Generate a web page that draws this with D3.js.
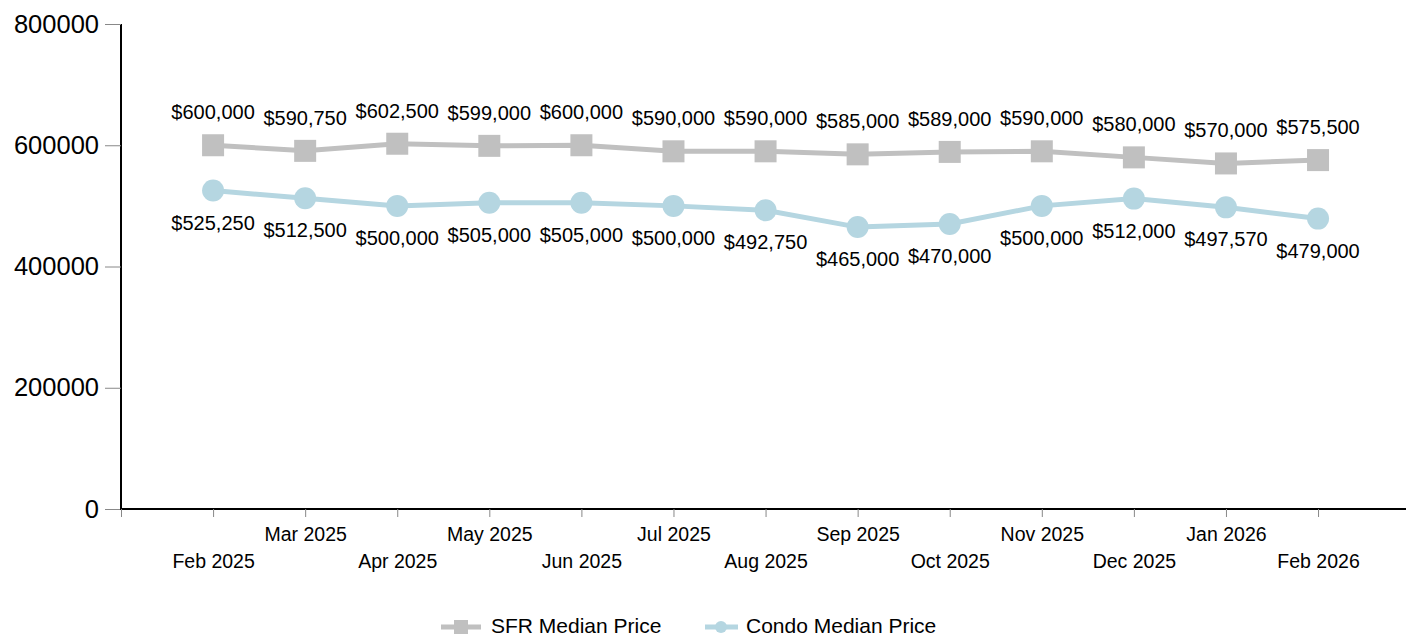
<!DOCTYPE html>
<meta charset="utf-8">
<style>
  body { margin: 0; background: #fff; }
  text { font-family: "Liberation Sans", Arial, sans-serif; fill: #000; }
</style>
<body>
  <div id="chart"></div>
</body>
<script src="https://cdn.jsdelivr.net/npm/d3@7"></script>
<script>
  var width = 1406, height = 636;

  var months = ["Feb 2025", "Mar 2025", "Apr 2025", "May 2025", "Jun 2025", "Jul 2025", "Aug 2025",
                "Sep 2025", "Oct 2025", "Nov 2025", "Dec 2025", "Jan 2026", "Feb 2026"];
  var sfr = [600000, 590750, 602500, 599000, 600000, 590000, 590000, 585000, 589000, 590000, 580000, 570000, 575500];
  var condo = [525250, 512500, 500000, 505000, 505000, 500000, 492750, 465000, 470000, 500000, 512000, 497570, 479000];
  var yTicks = [0, 200000, 400000, 600000, 800000];

  var sfrColor = "#c0c0c0", condoColor = "#b5d6e1";
  var fmt = d3.format("$,");

  var svg = d3.select("#chart").append("svg")
    .attr("width", width)
    .attr("height", height);

  // first slot on the band is left empty, like the original
  var x = d3.scalePoint()
    .domain([""].concat(months))
    .range([121, 121 + 13 * 92.08]);

  var y = d3.scaleLinear()
    .domain([0, 800000])
    .range([509, 24]);

  // y axis
  var yAxis = svg.append("g")
    .attr("transform", "translate(121,0)")
    .call(d3.axisLeft(y).tickValues(yTicks).tickFormat(d3.format("d")).tickSize(16).tickPadding(6));
  yAxis.select(".domain").attr("stroke", "#000").attr("stroke-width", 2).attr("d", "M0,24V510");
  yAxis.selectAll(".tick line").attr("stroke", "#888");
  yAxis.selectAll(".tick text").style("font-size", "25.5px").style("font-family", "Liberation Sans, Arial, sans-serif");

  // x axis
  var xAxis = svg.append("g")
    .attr("transform", "translate(0,509)")
    .call(d3.axisBottom(x).tickSize(8).tickFormat(function(d) { return d; }));
  xAxis.select(".domain").attr("stroke", "#000").attr("stroke-width", 2).attr("d", "M120,0H1406");
  xAxis.selectAll(".tick line").attr("stroke", "#888");
  xAxis.selectAll(".tick text")
    .style("font-size", "19.5px")
    .style("font-family", "Liberation Sans, Arial, sans-serif")
    .attr("y", function(d) { return months.indexOf(d) % 2 === 0 ? 45 : 18; });

  var line = d3.line()
    .x(function(d, i) { return x(months[i]); })
    .y(function(d) { return y(d); });

  // SFR series
  svg.append("path")
    .datum(sfr)
    .attr("fill", "none")
    .attr("stroke", sfrColor)
    .attr("stroke-width", 5)
    .attr("d", line);

  svg.append("g").selectAll("rect")
    .data(sfr)
    .enter().append("rect")
      .attr("x", function(d, i) { return x(months[i]) - 11; })
      .attr("y", function(d) { return y(d) - 11; })
      .attr("width", 22)
      .attr("height", 22)
      .attr("fill", sfrColor);

  svg.append("g").selectAll("text")
    .data(sfr)
    .enter().append("text")
      .attr("x", function(d, i) { return x(months[i]); })
      .attr("y", function(d) { return y(d) - 26; })
      .attr("text-anchor", "middle")
      .style("font-size", "20px")
      .text(function(d) { return fmt(d); });

  // Condo series
  svg.append("path")
    .datum(condo)
    .attr("fill", "none")
    .attr("stroke", condoColor)
    .attr("stroke-width", 5)
    .attr("d", line);

  svg.append("g").selectAll("circle")
    .data(condo)
    .enter().append("circle")
      .attr("cx", function(d, i) { return x(months[i]); })
      .attr("cy", function(d) { return y(d); })
      .attr("r", 11)
      .attr("fill", condoColor);

  svg.append("g").selectAll("text")
    .data(condo)
    .enter().append("text")
      .attr("x", function(d, i) { return x(months[i]); })
      .attr("y", function(d) { return y(d) + 39; })
      .attr("text-anchor", "middle")
      .style("font-size", "20px")
      .text(function(d) { return fmt(d); });

  // legend
  var legend = svg.append("g").attr("transform", "translate(0,627)");
  legend.append("line").attr("x1", 441).attr("x2", 481).attr("y1", 0).attr("y2", 0)
    .attr("stroke", sfrColor).attr("stroke-width", 5);
  legend.append("rect").attr("x", 454).attr("y", -7).attr("width", 14).attr("height", 14).attr("fill", sfrColor);
  legend.append("text").attr("x", 491).attr("y", 6).style("font-size", "21px").text("SFR Median Price");

  legend.append("line").attr("x1", 705).attr("x2", 738).attr("y1", 0).attr("y2", 0)
    .attr("stroke", condoColor).attr("stroke-width", 5);
  legend.append("circle").attr("cx", 721).attr("cy", 0).attr("r", 6).attr("fill", condoColor);
  legend.append("text").attr("x", 746).attr("y", 6).style("font-size", "21px").text("Condo Median Price");
</script>
